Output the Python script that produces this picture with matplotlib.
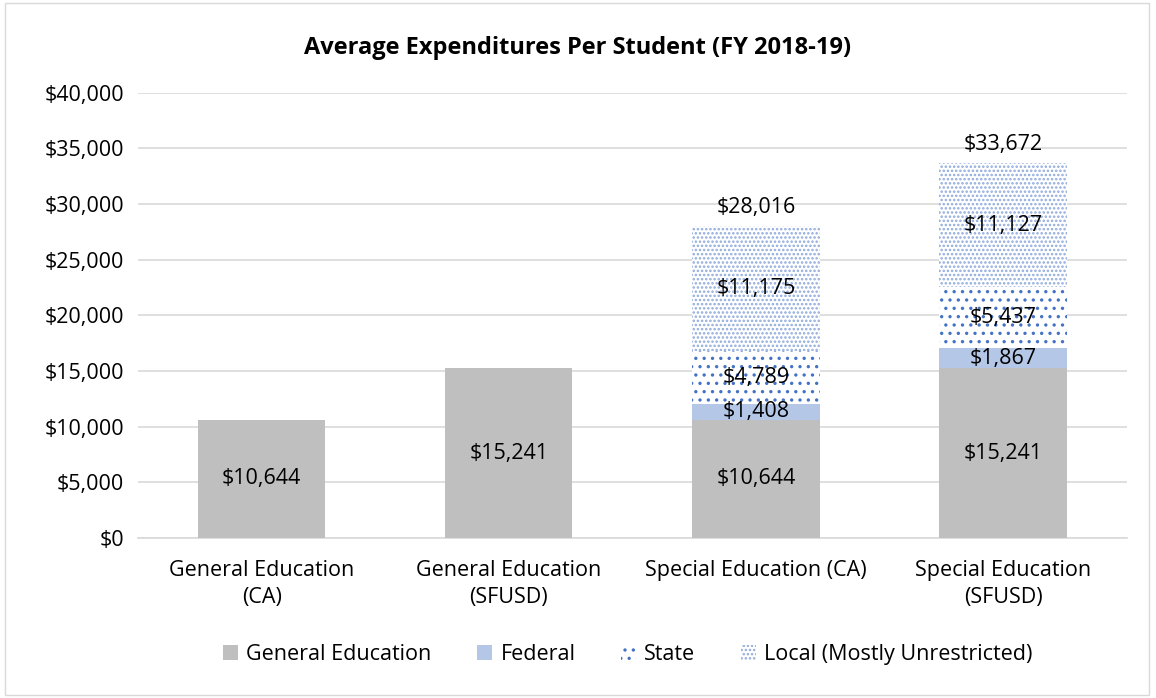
import numpy as np
import matplotlib.pyplot as plt
from matplotlib.patches import Rectangle

plt.rcParams['font.family'] = ['Open Sans', 'DejaVu Sans']
plt.rcParams['hatch.linewidth'] = 1.2

# data
categories = ['General Education\n(CA)', 'General Education\n(SFUSD)',
              'Special Education (CA)', 'Special Education\n(SFUSD)']
general = [10644, 15241, 10644, 15241]
federal = [0, 0, 1408, 1867]
state = [0, 0, 4789, 5437]
local = [0, 0, 11175, 11127]
series_names = ['General Education', 'Federal', 'State', 'Local (Mostly Unrestricted)']

fig = plt.figure(figsize=(11.56, 6.98), dpi=100)
ax = fig.add_axes([0.1195, 0.229, 0.855, 0.638])

x = np.arange(len(categories))
w = 0.515
g = np.array(general)
f = np.array(federal)
s = np.array(state)
l = np.array(local)

ax.bar(x, g, w, color='#bfbfbf', linewidth=0, zorder=3)
ax.bar(x, f, w, bottom=g, color='#b4c7e7', linewidth=0, zorder=3)
ax.bar(x, s, w, bottom=g + f, color='white', edgecolor='#4472c4', hatch='..',
       linewidth=0, zorder=3)
ax.bar(x, l, w, bottom=g + f + s, color='white', edgecolor='#8faadc', hatch='....',
       linewidth=0, zorder=3)

fs = 15.5
for i in range(len(x)):
    ax.text(x[i], g[i] / 2, '${:,}'.format(g[i]), ha='center', va='center', fontsize=fs, zorder=5)
    if f[i] > 0:
        ax.text(x[i], g[i] + f[i] / 2, '${:,}'.format(f[i]), ha='center', va='center', fontsize=fs, zorder=5)
        ax.text(x[i], g[i] + f[i] + s[i] / 2, '${:,}'.format(s[i]), ha='center', va='center', fontsize=fs, zorder=5)
        ax.text(x[i], g[i] + f[i] + s[i] + l[i] / 2, '${:,}'.format(l[i]), ha='center', va='center', fontsize=fs, zorder=5)
        tot = g[i] + f[i] + s[i] + l[i]
        ax.text(x[i], tot + 700, '${:,}'.format(tot), ha='center', va='bottom', fontsize=fs, zorder=5)

ax.set_xlim(-0.5, 3.5)
ax.set_ylim(0, 40000)
ax.set_yticks(np.arange(0, 40001, 5000))
ax.set_yticklabels(['${:,}'.format(v) for v in range(0, 40001, 5000)], fontsize=fs)
ax.set_xticks(x)
ax.set_xticklabels(categories, fontsize=fs, linespacing=1.35)
ax.tick_params(axis='y', length=0, pad=10)
ax.tick_params(axis='x', length=0, pad=16)
ax.grid(axis='y', color='#d9d9d9', linewidth=1.2, zorder=0)
for sp in ['top', 'right', 'left']:
    ax.spines[sp].set_visible(False)
ax.spines['bottom'].set_color('#d9d9d9')
ax.spines['bottom'].set_linewidth(1.2)

fig.text(0.5, 0.931, 'Average Expenditures Per Student (FY 2018-19)', ha='center', va='center',
         fontsize=17, fontweight='bold')

handles = [Rectangle((0, 0), 1, 1, facecolor='#bfbfbf', linewidth=0),
           Rectangle((0, 0), 1, 1, facecolor='#b4c7e7', linewidth=0),
           Rectangle((0, 0), 1, 1, facecolor='white', edgecolor='#4472c4', hatch='..', linewidth=0),
           Rectangle((0, 0), 1, 1, facecolor='white', edgecolor='#8faadc', hatch='....', linewidth=0)]
fig.legend(handles, series_names, loc='center', bbox_to_anchor=(0.543, 0.062), ncol=4,
           frameon=False, fontsize=fs, handlelength=0.7, handleheight=0.7,
           handletextpad=0.4, columnspacing=2.1)

fig.add_artist(Rectangle((0.004, 0.005), 0.99, 0.99, transform=fig.transFigure,
                         fill=False, edgecolor='#d9d9d9', linewidth=1))

fig.savefig('out.png', dpi=100)
